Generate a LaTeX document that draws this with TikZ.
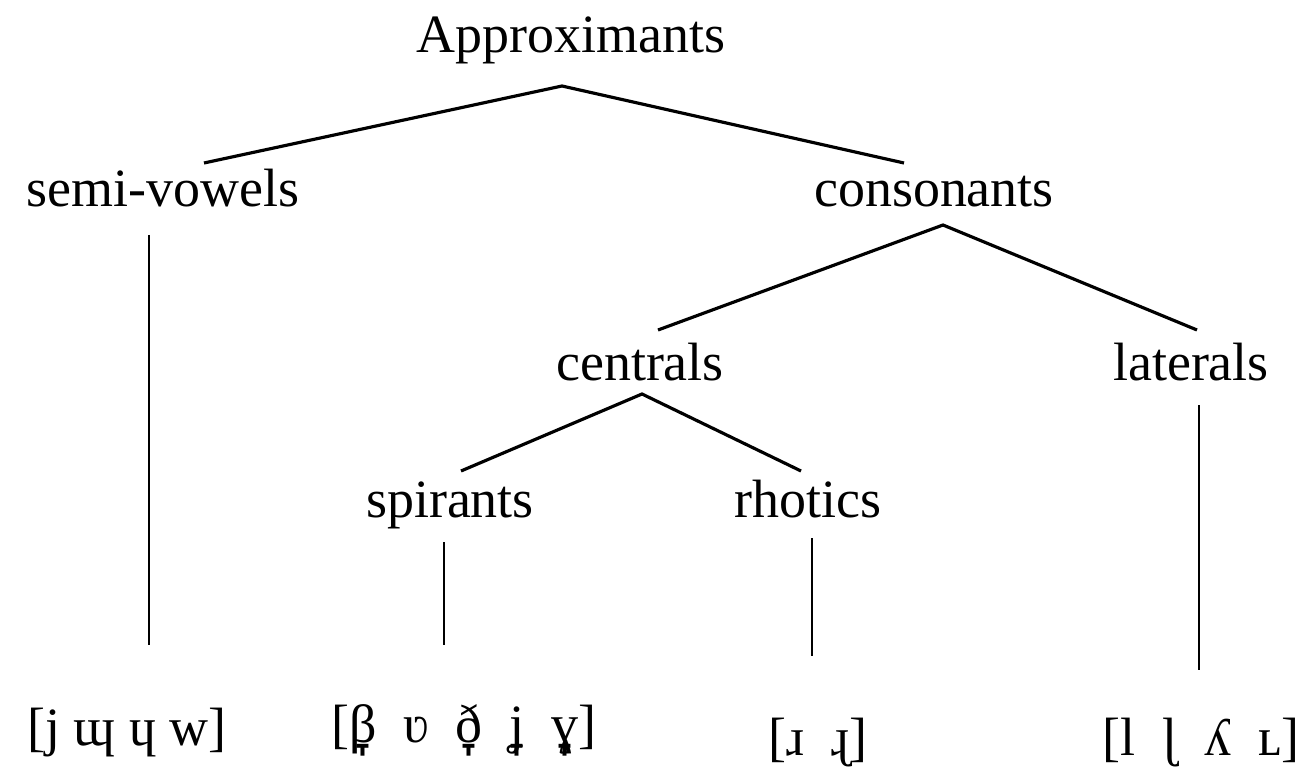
\documentclass[tikz,border=0pt]{standalone}
\usepackage{fontspec}
\setmainfont{Liberation Serif}
\newfontfamily\tackfont{DejaVu Sans}
\usepackage{tikz}
\usetikzlibrary{calc}
\newcommand{\lowr}[1]{\ooalign{#1\cr\hidewidth\raisebox{-0.5em}{\tackfont ˕}\hidewidth\cr}}
\tikzstyle{category} = [
    inner sep = 0pt,
    anchor = base,
    font = \fontsize{30.7}{36}\selectfont
]
\tikzstyle{sounds} = [
    inner sep = 0pt,
    anchor = base,
    font = \fontsize{30.7}{36}\selectfont
]
\tikzstyle{branch} = [
    line width = 1.8pt
]
\tikzstyle{stem} = [
    line width = 1.2pt
]
\begin{document}
\begin{tikzpicture}[x=0.02cm, y=-0.02cm]

                \useasboundingbox (0,0) rectangle (1308,770);

                % top
                \node [category] (apx) at (571,53) {Approximants};
                \node [category] (semi) at (163,207) {semi-vowels};
                \node [category] (cons) at (934,207) {consonants};
                \draw [branch] ($(semi.base)+(41,-44)$) -- ($(apx.base)+(-9,33)$) -- ($(cons.base)+(-30,-44)$);

                % consonants
                \node [category] (cent) at (640,380) {centrals};
                \node [category] (lat) at (1191,380) {laterals};
                \draw [branch] ($(cent.base)+(18,-50)$) -- ($(cons.base)+(9,18)$) -- ($(lat.base)+(6,-50)$);

                % centrals
                \node [category] (spir) at (450,517) {spirants};
                \node [category] (rhot) at (808,517) {rhotics};
                \draw [branch] ($(spir.base)+(11,-46)$) -- ($(cent.base)+(2,14)$) -- ($(rhot.base)+(-7,-46)$);

                % sounds
                \node [sounds] (semiIpa) at (127,745) {[j ɰ ɥ w]};
                \node [sounds] (spirIpa) at (464,742) {[\lowr{β}\ \ ʋ\ \ \lowr{ð}\ \ \lowr{ʝ}\ \ \lowr{ɣ}]};
                \node [sounds] (rhotIpa) at (818,755) {[ɹ\ \ ɻ]};
                \node [sounds] (latIpa) at (1201,755) {[l\ \ ɭ\ \ ʎ\ \ ʟ]};

                \draw [stem] ($(semi.base)+(-14,28)$) -- ($(semiIpa.base)+(22,-100)$);
                \draw [stem] ($(spir.base)+(-6,25)$) -- ($(spirIpa.base)+(-20,-97)$);
                \draw [stem] ($(rhot.base)+(4,21)$) -- ($(rhotIpa.base)+(-6,-99)$);
                \draw [stem] ($(lat.base)+(8,25)$) -- ($(latIpa.base)+(-2,-85)$);

            \end{tikzpicture}
\end{document}
